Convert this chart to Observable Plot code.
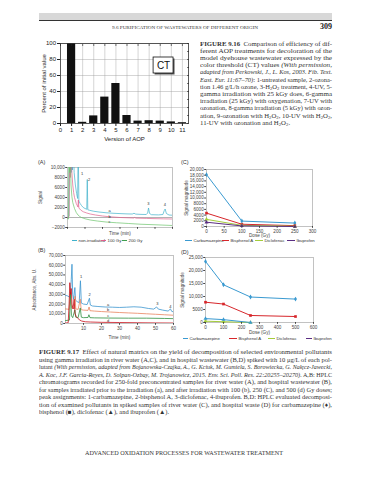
<!DOCTYPE html>
<html><head><meta charset="utf-8">
<script src="https://cdn.jsdelivr.net/npm/d3@7"></script>
<script src="https://cdn.jsdelivr.net/npm/@observablehq/plot@0.6"></script>
<style>
html,body{margin:0;padding:0;background:#fff}
body{width:389px;height:480px;overflow:hidden;position:relative;font-family:"Liberation Serif","DejaVu Serif",serif;color:#333}
.abs{position:absolute}
.fit{position:absolute;white-space:nowrap;transform-origin:0 0}
.sub{font-size:0.7em;position:relative;top:0.3em}
.leg{position:absolute;white-space:nowrap;font-family:"Liberation Sans",Arial,sans-serif;font-size:4.3px;color:#333;line-height:5px}
.plab{position:absolute;font-family:"Liberation Sans",Arial,sans-serif;font-size:5.5px;color:#333}
</style>
</head><body>
<script>
// ---------- DATA ----------
// Figure 9.16
const aopVersions = [1,2,3,4,5,6,7,8,9,10,11];
const aopPercent  = [100,1.5,9.5,33,50,10,3,3.5,3,2,1];
const aopXTicks   = [0,1,2,3,4,5,6,7,8,9,10,11];
const aopYTicks   = [0,20,40,60,80,100];
const aopMinorY   = [10,30,50,70,90];
const ctNote      = [{label:"CT", x:9.3, y:72.5}];

// Panel A chromatograms (time min, signal)
const aNonIrradiated = [[0,0],[0.8,300],[1.1,15000],[1.4,9500],[1.7,15000],[2.1,9000],[2.4,15000],[2.8,9500],[3.3,15000],[3.8,9000],[4.5,6500],[5.2,4800],[5.8,3800],[6.1,15000],[6.5,3300],[7.2,2800],[8,2400],[9,2000],[10,1800],[11,1650],[11.3,7600],[11.6,1550],[12.5,1450],[15,1250],[18,1100],[22,950],[26,850],[30,780],[34,720],[37,700],[38,850],[39,680],[42,620],[45,600],[45.8,900],[46.3,1900],[46.9,800],[48,560],[52,520],[54.5,600],[55.3,1400],[55.8,1700],[56.5,800],[58,500],[60,450]];
const aGy100 = [[0,0],[0.9,200],[1.2,14000],[1.6,8000],[2.0,14000],[2.5,9000],[3,6500],[3.5,5000],[4,4000],[5,2800],[6,2100],[6.2,3500],[6.5,1900],[7.5,1500],[9,1150],[11,900],[13,700],[16,500],[20,300],[24,150],[30,0],[38,-100],[38.5,50],[39,-120],[45,-180],[50,-230],[55,-270],[60,-300]];
const aGy200 = [[0,-200],[0.6,-300],[0.8,14000],[1.2,9000],[1.5,14000],[2,6500],[2.5,4200],[3,3000],[4,1800],[5,1000],[6,500],[7,200],[8,0],[10,-250],[13,-500],[17,-700],[22,-900],[28,-1050],[35,-1200],[42,-1350],[50,-1450],[60,-1600]];
const aPeakLabels = [{t:8.3,v:8700,s:"1"},{t:12.4,v:7600,s:"2"},{t:46.2,v:2700,s:"3"},{t:55.6,v:2600,s:"4"},{t:24,v:1300,s:"a"},{t:24,v:250,s:"b"},{t:24,v:-750,s:"c"}];
const aSeriesNames = ["non-irradiated","100 Gy","200 Gy"];
const aColors = ["#3fb2cc","#e0608c","#6cc46c"];

// Panel B chromatograms (time min, absorbance)
const bSampleA = [[0,29000],[1,28500],[2,27500],[2.6,27000],[3.2,45000],[3.6,61000],[4,30000],[4.5,25000],[5.2,37000],[5.6,24000],[6.5,22500],[7.6,21500],[8.3,44000],[8.8,21000],[10,20000],[12,19500],[13.3,26000],[13.8,19000],[15,18000],[18,17500],[22,17000],[26,16800],[30,16500],[34,16800],[38,17200],[42,16800],[46,15500],[49,14800],[50.6,17000],[51.6,14800],[54,13800],[57,12800],[58.3,15000],[59,12500],[60,12000]];
const bSampleB = [[0,15000],[1,14800],[2,14500],[2.6,30000],[3,20000],[3.5,16000],[5,15500],[5.3,28000],[5.7,15000],[7,14500],[8.2,25000],[8.7,14200],[10,13800],[12.5,13500],[13.1,17000],[13.6,13200],[16,12800],[20,12300],[25,11800],[30,11300],[35,10900],[40,10500],[45,10000],[50,9500],[55,9000],[60,8500]];
const bSampleC = [[0,3000],[2.2,3500],[2.8,32000],[3.3,8000],[4,6000],[5.2,14000],[5.7,6500],[7,6000],[8.2,16000],[8.8,6500],[10,6000],[12.5,6200],[13,9000],[13.6,6000],[16,5800],[24,5600],[35,5500],[45,5500],[55,5200],[60,5000]];
const bSampleD = [[0,500],[1.5,800],[2,20000],[2.4,42000],[2.8,30000],[3.2,36000],[3.6,20000],[4.2,15000],[4.8,25000],[5.3,10000],[6,7000],[7,5000],[8,3500],[9,2500],[11,1800],[14,1500],[20,1200],[30,1000],[40,800],[50,600],[60,500]];
const bPeakLabels = [{t:8.7,v:48000,s:"1"},{t:13.4,v:30000,s:"2"},{t:51,v:20000,s:"3"},{t:58.3,v:17500,s:"4"},{t:23.7,v:19500,s:"a"},{t:23.7,v:14000,s:"b"},{t:23.7,v:8000,s:"c"},{t:23.7,v:2500,s:"d"}];
const bColors = ["#3b95cf","#e8845e","#2f8f3f","#c8101a"];

// Panels C and D (dose Gy, signal magnitude)
const pollutants = ["Carbamazepine","Bisphenol A","Diclofenac","Ibuprofen"];
const pollutantColors = ["#3a9ad1","#d7262b","#a4cc3c","#5a2d82"];
const pollutantSymbols = ["diamond","square","triangle","triangle"];
const doseC = [0,100,250];
const cCarbamazepine = [18200,1900,1200];
const cBisphenol     = [4700,800,300];
const cDiclofenac    = [2500,400,100];
const cIbuprofen     = [1500,200,0];
const doseD = [0,100,250,500];
const dCarbamazepine = [23500,14500,9800,9000];
const dBisphenol     = [7800,7100,2700,2300];
const doseDshort = [0,100,250];
const dDiclofenac    = [500,300,0];
const dIbuprofen     = [1500,1100,0];

// ---------- HELPERS ----------
function place(el, left, top, w){ const d=document.createElement("div"); d.className="abs"; d.style.left=left+"px"; d.style.top=top+"px"; if(w) d.style.width=w+"px"; d.appendChild(el); document.body.appendChild(d); return d; }
function html(cls, left, top, inner, style){ const d=document.createElement("div"); d.className=cls; d.style.left=left+"px"; d.style.top=top+"px"; if(style) Object.assign(d.style, style); d.innerHTML=inner; document.body.appendChild(d); return d; }
const numFmt = d => Math.abs(d) >= 10000 ? d3.format(",")(d) : (d < 0 ? "\u2212" + Math.abs(d) : String(d));
const pairs = (arr, name) => arr.map(([t,v]) => ({t, v, name}));
const zipDose = (dose, vals, name) => dose.map((x,i) => ({x, v: vals[i], name}));
const sans = "'Liberation Sans', Arial, sans-serif";

// ---------- PAGE HEADER ----------
html("abs",39,13,"",{width:"293px",height:"7px",background:"#d8d8d8",borderBottom:"1.2px solid #333"});
const headerTxt = html("fit",112,24.5,"9.6 PURIFICATION OF WASTEWATERS OF DIFFERENT ORIGIN",{fontSize:"4.8px"});
headerTxt.dataset.w = 146;
html("abs",318,22,"309",{fontSize:"8px",fontWeight:"bold",width:"14px",textAlign:"right",color:"#222"});

// ---------- FIGURE 9.16 ----------
const bars = aopVersions.map((v,i)=>({v, p: aopPercent[i]}));
const fig916 = Plot.plot({
  width:165, height:112, marginLeft:30, marginRight:7, marginTop:7, marginBottom:25,
  style:{fontSize:"6px", fontFamily:sans, background:"transparent", color:"#222"},
  x:{domain:[0,11.55]}, y:{domain:[0,100]},
  marks:[
    Plot.gridX(aopXTicks.slice(1),{stroke:"#999", strokeOpacity:0.7, strokeWidth:0.6}),
    Plot.gridY(aopYTicks.slice(1),{stroke:"#999", strokeOpacity:0.7, strokeWidth:0.6}),
    Plot.rectY(bars,{x1:d=>d.v-0.37, x2:d=>d.v+0.37, y:"p", fill:"#111"}),
    Plot.frame({stroke:"#333", strokeWidth:0.8}),
    Plot.axisX(aopXTicks,{anchor:"top", tickSize:-2, tickFormat:()=>"", label:null, strokeWidth:0.6}),
    Plot.axisY(aopMinorY.concat(aopYTicks),{anchor:"right", tickSize:-2, tickFormat:()=>"", label:null, strokeWidth:0.6}),
    Plot.rect(ctNote,{x1:d=>d.x-0.9, x2:d=>d.x+0.9, y1:d=>d.y-10, y2:d=>d.y+10, fill:"#555", dx:1.5, dy:1.5}),
    Plot.rect(ctNote,{x1:d=>d.x-0.9, x2:d=>d.x+0.9, y1:d=>d.y-10, y2:d=>d.y+10, fill:"#fff", stroke:"#111", strokeWidth:0.8}),
    Plot.text(ctNote,{x:"x", y:"y", text:"label", fontSize:10, fill:"#111"}),
    Plot.axisX(aopXTicks,{tickSize:3, tickPadding:1.5, label:"Version of AOP", labelAnchor:"center", labelOffset:17, labelArrow:"none"}),
    Plot.axisY(aopYTicks,{tickSize:3, tickPadding:1.5, label:"Percent of initial value", labelAnchor:"center", labelOffset:19, labelArrow:"none"})
  ]
});
place(fig916, 30, 36, 165);

const cap16 = [
 "<b>FIGURE 9.16</b>&nbsp;&nbsp;Comparison of efficiency of dif-",
 "ferent AOP treatments for decoloration of the",
 "model dyehouse wastewater expressed by the",
 "color threshold (CT) values <i>(With permission,</i>",
 "<i>adapted from Perkowski, J., L. Kos, 2003. Fib. Text.</i>",
 "<i>East. Eur. 11:67\u201370)</i>: 1-untreated sample, 2-ozona-",
 "tion 1.46 g/L/h ozone, 3-H<span class='sub'>2</span>O<span class='sub'>2</span> treatment, 4-UV, 5-",
 "gamma irradiation with 25 kGy does, 6-gamma",
 "irradiation (25 kGy) with oxygenation, 7-UV with",
 "ozonation, 8-gamma irradiation (5 kGy) with ozon-",
 "ation, 9-ozonation with H<span class='sub'>2</span>O<span class='sub'>2</span>, 10-UV with H<span class='sub'>2</span>O<span class='sub'>2</span>,",
 "11-UV with ozonation and H<span class='sub'>2</span>O<span class='sub'>2</span>."
];
const cap17 = [
 "<b>FIGURE 9.17</b>&nbsp;&nbsp;Effect of natural matrics on the yield of decomposition of selected environmental pollutants",
 "using gamma irradiation in river water (A,C), and in hospital wastewater (B,D) spiked with 10 \u03bcg/L of each pol-",
 "lutant <i>(With permission, adapted from Bojanowska-Czajka, A., G. Kciuk, M. Gumiela, S. Borowiecka, G. Na\u0142\u0119cz-Jawecki,</i>",
 "<i>A. Koc, J.F. Garcia-Reyes, D. Solpan-Ozbay, M. Trojanowicz, 2015. Env. Sci. Poll. Res. 22:20255\u201320270).</i> A,B: HPLC",
 "chromatograms recorded for 250-fold preconcentrated samples for river water (A), and hospital wastewater (B),",
 "for samples irradiated prior to the irradiation (a), and after irradiation with 100 (b), 250 (C), and 500 (d) Gy doses;",
 "peak assignments: 1-carbamazepine, 2-bisphenol A, 3-diclofenac, 4-ibuprofen. B,D: HPLC evaluated decomposi-",
 "tion of examined pollutants in spiked samples of river water (C), and hospital waste (D) for carbamazepine (\u2666),",
 "bisphenol (\u25a0), diclofenac (\u25b2), and ibuprofen (\u25b2)."
];
function caption(lines, left, top, width, lh, fs){
  return lines.map((l,i)=>{ const e = html("fit", left, top + i*lh, l, {fontSize: fs+"px"}); if(i < lines.length-1) e.dataset.w = width; else e.dataset.last = "1"; return e; });
}
const c16 = caption(cap16, 200, 39.5, 132, 7.2, 6.6);
const c17 = caption(cap17, 39, 348, 293, 7.5, 6.3);
const footer = html("fit", 85, 449.5, "ADVANCED OXIDATION PROCESSES FOR WASTEWATER TREATMENT", {fontSize:"5.6px"});
footer.dataset.w = 198;

// ---------- PANEL FACTORY ----------
function panel(c){
  return Plot.plot({
    width:c.w, height:c.h, marginLeft:c.ml, marginRight:c.mr, marginTop:c.mt, marginBottom:c.mb,
    style:{fontSize:"4.6px", fontFamily:sans, background:"transparent", color:"#444"},
    x:{domain:c.xDomain}, y:{domain:c.yDomain},
    marks:[
      Plot.frame({stroke:"#9a9a9a", strokeWidth:0.6}),
      ...c.marks,
      Plot.axisX(c.xTicks,{tickSize:1.8, tickPadding:1, tickFormat:c.xFmt || numFmt, label:c.xLabel, labelAnchor:"center", labelOffset:c.xlo, labelArrow:"none", fontSize:"4.6px"}),
      Plot.axisY(c.yTicks,{tickSize:1.8, tickPadding:1, tickFormat:numFmt, label:c.yLabel, labelAnchor:"center", labelOffset:c.ylo, labelArrow:"none", fontSize:"4.6px"})
    ]
  });
}

// Panel A
const aData = [...pairs(aNonIrradiated, aSeriesNames[0]), ...pairs(aGy100, aSeriesNames[1]), ...pairs(aGy200, aSeriesNames[2])];
const panelA = panel({
  w:150, h:80, ml:37, mr:8, mt:7, mb:13,
  xDomain:[0,60], yDomain:[-2000,10000],
  xTicks:[0,10,20,30,40,50,60], xFmt:()=>"", yTicks:[-2000,0,2000,4000,6000,8000,10000],
  xLabel:"Time (min)", xlo:7.5, yLabel:"Signal", ylo:29,
  marks:[
    Plot.ruleY([0],{stroke:"#666", strokeWidth:0.5}),
    Plot.line(aData,{x:"t", y:"v", z:"name", stroke:d=>aColors[aSeriesNames.indexOf(d.name)], strokeWidth:0.7, clip:true}),
    Plot.text(aPeakLabels,{x:"t", y:"v", text:"s", fontSize:4, fill:"#333"})
  ]
});
place(panelA, 30, 160, 150);
html("plab",38,158.5,"(A)");

// Panel C
const cData = [
  ...zipDose(doseC, cCarbamazepine, pollutants[0]), ...zipDose(doseC, cBisphenol, pollutants[1]),
  ...zipDose(doseC, cDiclofenac, pollutants[2]), ...zipDose(doseC, cIbuprofen, pollutants[3])];
const colorOf = d => pollutantColors[pollutants.indexOf(d.name)];
const symOf = d => pollutantSymbols[pollutants.indexOf(d.name)];
const panelC = panel({
  w:150, h:80, ml:31, mr:13, mt:9, mb:14,
  xDomain:[0,300], yDomain:[0,20000],
  xTicks:[0,50,100,150,200,250,300], yTicks:d3.range(0,20001,2000),
  xLabel:"Dose (Gy)", xlo:10.3, yLabel:"Signal magnitude", ylo:21.5,
  marks:[
    Plot.line(cData,{x:"x", y:"v", z:"name", stroke:colorOf, strokeWidth:1}),
    Plot.dot(cData,{x:"x", y:"v", fill:colorOf, symbol:symOf, r:1.5})
  ]
});
place(panelC, 175, 160, 150);
html("plab",181,158.5,"(C)");

// Panel B
const bNames = ["a","b","c","d"];
const bData = [...pairs(bSampleA,"a"), ...pairs(bSampleB,"b"), ...pairs(bSampleC,"c"), ...pairs(bSampleD,"d")];
const panelB = panel({
  w:155, h:92, ml:40, mr:7, mt:7, mb:17,
  xDomain:[0,60], yDomain:[0,70000],
  xTicks:[10,20,30,40,50,60], yTicks:d3.range(0,70001,10000),
  xLabel:"Time (min)", xlo:15.5, yLabel:"Absorbance, Abs. U.", ylo:32.5,
  marks:[
    Plot.line(bData,{x:"t", y:"v", z:"name", stroke:d=>bColors[bNames.indexOf(d.name)], strokeWidth:0.8, clip:true}),
    Plot.text(bPeakLabels,{x:"t", y:"v", text:"s", fontSize:4, fill:"#333"})
  ]
});
place(panelB, 25, 248, 155);
html("plab",38,246.5,"(B)");

// Panel D
const dData = [
  ...zipDose(doseD, dCarbamazepine, pollutants[0]), ...zipDose(doseD, dBisphenol, pollutants[1]),
  ...zipDose(doseDshort, dDiclofenac, pollutants[2]), ...zipDose(doseDshort, dIbuprofen, pollutants[3] + " ")];
const colorOfD = d => pollutantColors[pollutants.indexOf(d.name.trim()) === 3 ? 0 : pollutants.indexOf(d.name)];
const panelD = panel({
  w:150, h:86, ml:30, mr:12, mt:7, mb:14,
  xDomain:[0,600], yDomain:[0,25000],
  xTicks:[0,100,200,300,400,500,600], yTicks:[0,5000,10000,15000,20000,25000],
  xLabel:"Dose (Gy)", xlo:11.5, yLabel:"Signal magnitude", ylo:24.5,
  marks:[
    Plot.line(dData,{x:"x", y:"v", z:"name", stroke:colorOfD, strokeWidth:1}),
    Plot.dot(dData,{x:"x", y:"v", fill:colorOfD, symbol:d=>pollutantSymbols[pollutants.indexOf(d.name.trim())], r:1.5})
  ]
});
place(panelD, 175, 250, 150);
html("plab",181,248.5,"(D)");

// ---------- LEGENDS ----------
function legend(top, items){
  items.forEach(it => html("leg", it.x, top, `<span style="display:inline-block;width:${it.sw}px;height:1.3px;background:${it.color};vertical-align:middle;margin-right:1.5px"></span>${it.label}`));
}
legend(237.5, [{x:72,sw:5,color:aColors[0],label:aSeriesNames[0]},{x:101,sw:5,color:aColors[1],label:aSeriesNames[1]},{x:122,sw:5,color:"#3f9f4f",label:aSeriesNames[2]}]);
legend(237.8, [{x:185,sw:7,color:pollutantColors[0],label:pollutants[0]},{x:222,sw:7,color:pollutantColors[1],label:pollutants[1]},{x:255,sw:8,color:pollutantColors[2],label:pollutants[2]},{x:287,sw:8,color:pollutantColors[3],label:pollutants[3]}]);
legend(335.5, [{x:183,sw:5,color:pollutantColors[0],label:pollutants[0]},{x:229,sw:8,color:pollutantColors[1],label:pollutants[1]},{x:268,sw:7,color:pollutantColors[2],label:pollutants[2]},{x:306,sw:6,color:pollutantColors[3],label:pollutants[3]}]);

// ---------- FIT TEXT LINES ----------
function fitGroup(els){
  let scales = [];
  els.forEach(e => { if(e.dataset.w){ const s = (+e.dataset.w) / e.getBoundingClientRect().width; e.style.transform = `scaleX(${s})`; scales.push(s); } });
  const mean = scales.length ? d3.mean(scales) : 1;
  els.forEach(e => { if(e.dataset.last) e.style.transform = `scaleX(${mean})`; });
}
fitGroup(c16); fitGroup(c17); fitGroup([headerTxt]); fitGroup([footer]);
</script>
</body></html>
